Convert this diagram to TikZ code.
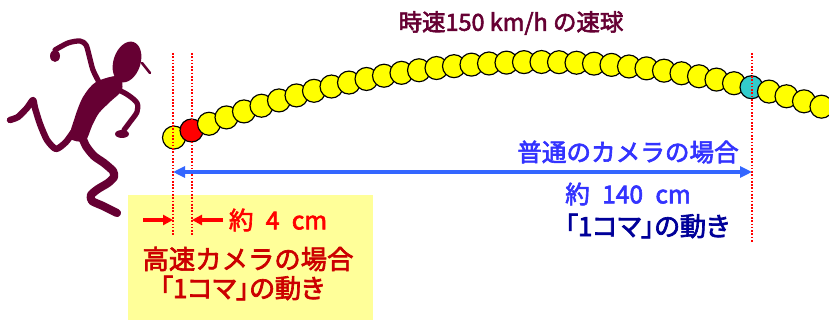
\documentclass[tikz,border=0pt]{standalone}
\usepackage{fontspec}
\setmainfont[FakeBold=2.5]{Noto Sans CJK JP}
\newfontfamily\paltfont[FakeBold=2.5, RawFeature=+palt]{Noto Sans CJK JP}
\usetikzlibrary{positioning, arrows.meta}
\definecolor{maroon}{HTML}{660033}
\definecolor{ballyellow}{HTML}{FFFF00}
\definecolor{ballcyan}{HTML}{33CCCC}
\definecolor{arrowblue}{HTML}{3366FF}
\definecolor{textblue}{HTML}{3333FF}
\definecolor{darknavy}{HTML}{000099}
\definecolor{boxyellow}{HTML}{FFFF99}
\definecolor{darkred}{HTML}{CC0000}
\newcommand\wsp{\hspace{0.5em}}
\tikzset{
    ball/.style={draw, circle, line width=1pt, minimum size=0.69cm, inner sep=0pt},
    frameline/.style={draw=red, line width=1.4pt, dash pattern=on 1.4pt off 1.4pt},
    txt/.style={font=\fontsize{21}{23}\selectfont, inner sep=0pt},
    bigtxt/.style={font=\fontsize{22.5}{24}\selectfont, inner sep=0pt},
    limb/.style={draw=maroon, line cap=round, line join=round, line width=4.5pt},
    bluearrow/.style={draw=arrowblue, line width=3.4pt, {Triangle[length=0.36cm, width=0.33cm]}-{Triangle[length=0.36cm, width=0.33cm]}},
    redarrow/.style={draw=red, line width=2.6pt, -{Triangle[length=0.3cm, width=0.3cm]}}
}

\begin{document}
\begin{tikzpicture}[x=0.03cm, y=-0.03cm, node distance=0.2cm]
  \clip (0,0) rectangle (829,320);
  \fill[white] (0,0) rectangle (829,320);
  % runner
  \fill[maroon, rotate around={-18:(127,62)}] (127,62) ellipse [x radius=13.5, y radius=21];
  \draw[limb, line width=2.2pt] (142,63) -- (150,73);
  \fill[maroon] plot[smooth cycle] coordinates {(119,76) (122,90) (111,101) (99,113) (92,126) (85,141) (70,138) (75,117) (83,97) (96,82)};
  \draw[limb] plot[smooth, tension=0.5] coordinates {(100,84) (93,70) (89,55) (86,45) (80,41) (68,43) (55,50)};
  \fill[maroon] (55,56) ellipse [x radius=5, y radius=6];
  \draw[limb] plot[smooth, tension=0.5] coordinates {(115,88) (128,95) (137,103) (137,112) (130,122) (124,130)};
  \fill[maroon] (122,134) ellipse [x radius=7, y radius=4];
  \draw[limb, line width=5.5pt] plot[smooth, tension=0.4] coordinates {(76,128) (66,142) (56,149) (47,140) (40,124) (35,108) (33,100) (27,108) (18,117) (10,120)};
  \draw[limb, line width=7pt] plot[smooth, tension=0.4] coordinates {(80,132) (86,146) (94,156) (104,163) (113,171) (114,177) (108,183) (98,189) (91,195) (92,201) (103,206) (117,213)};
  % the ball, one position per frame
  \foreach \i in {0,...,37}{
    \pgfmathsetmacro\bx{174+17.5*\i}
    \pgfmathsetmacro\by{62+5.64*((\bx-540)/100)^2}
    \def\ballcol{ballyellow}
    \ifnum\i=1 \def\ballcol{red}\fi
    \ifnum\i=33 \def\ballcol{ballcyan}\fi
    \node(ball\i)[ball, fill=\ballcol] at (\bx,\by){};
  }
  \node(T)[txt, font=\fontsize{20}{22}\selectfont, text=maroon] at (511,23){時速150 km/h の速球};
  % high speed camera box
  \fill[boxyellow] (128,195) rectangle (373,322);
  \coordinate(F1a) at (173,53);
  \coordinate(F1b) at (173,236);
  \coordinate(F2a) at (192,53);
  \coordinate(F2b) at (192,236);
  \coordinate(F3a) at (752,53);
  \coordinate(F3b) at (752,242);
  \draw[frameline](F1a)--(F1b);
  \draw[frameline](F2a)--(F2b);
  \draw[frameline](F3a)--(F3b);
  \coordinate(Y) at (0,172);
  \draw[bluearrow](F1a|-Y)--(F3a|-Y);
  \node(A)[txt, text=textblue] at (628,152){普通のカメラの場合};
  \node(B)[txt, text=textblue] at (628,194){約\wsp 140\wsp cm};
  \node(C)[bigtxt, text=darknavy] at (647,226){\paltfont 「1コマ」の動き};
  \coordinate(R1) at (143,220);
  \coordinate(R2) at (223,220);
  \draw[redarrow](R1)--(F1a|-R1);
  \draw[redarrow](R2)--(F2a|-R2);
  \node(D)[txt, text=red] at (278,220){約\wsp 4\wsp cm};
  \node(E)[bigtxt, text=darkred] at (248,259){高速カメラの場合};
  \node(G)[bigtxt, text=darkred] at (242,288){\paltfont 「1コマ」の動き};
\end{tikzpicture}
\end{document}
